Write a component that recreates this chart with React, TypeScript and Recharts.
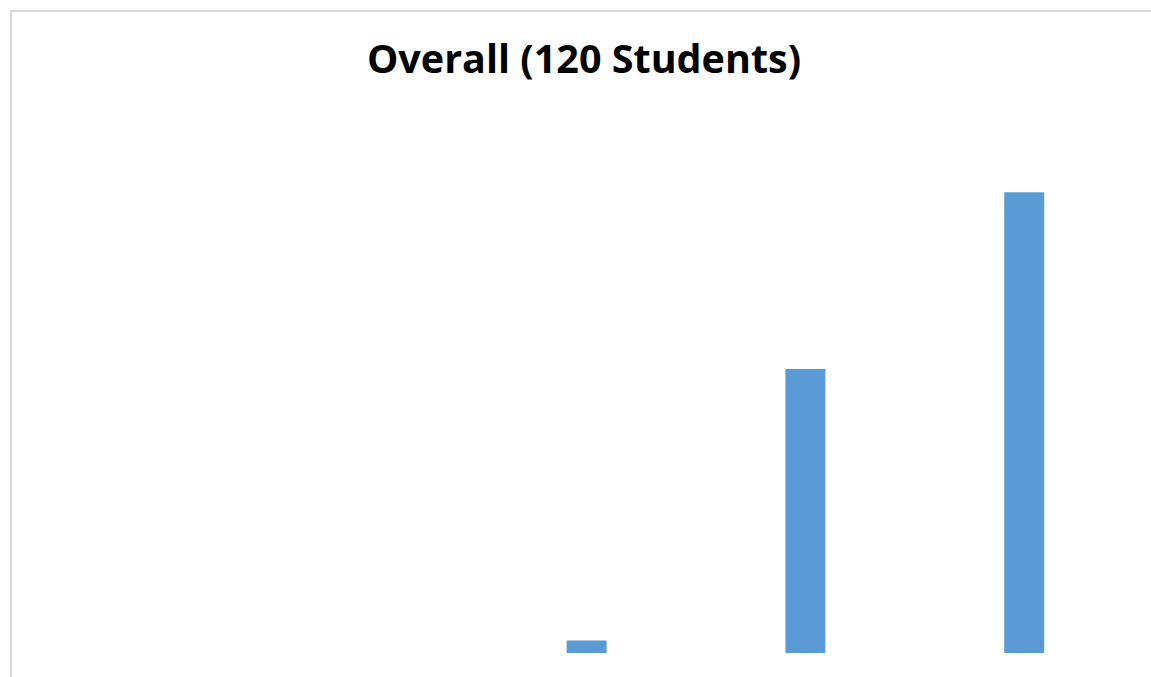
import { BarChart, Bar, XAxis, YAxis } from "recharts";

const categories = ["1", "2", "3", "4", "5"];
const students = [0, 0, 2, 45, 73];

const data = categories.map((c, i) => ({ name: c, students: students[i] }));

export default function App() {
  return (
    <div style={{ position: "absolute", left: 0, top: 0, width: 1151, height: 677, overflow: "hidden", background: "#fff" }}>
      <div
        style={{
          position: "absolute",
          left: 10,
          top: 10,
          width: 1200,
          height: 720,
          borderTop: "2px solid #d9d9d9",
          borderLeft: "2px solid #d9d9d9",
        }}
      />
      <div
        style={{
          position: "absolute",
          left: 0,
          top: 37.5,
          width: 1168,
          textAlign: "center",
          fontFamily: "'Open Sans', sans-serif",
          fontWeight: 700,
          fontSize: 39.5,
          lineHeight: "40px",
          color: "#000",
        }}
      >
        Overall (120 Students)
      </div>
      <div style={{ position: "absolute", left: 0, top: 0 }}>
        <BarChart width={1151} height={677} data={data} margin={{ top: 148, right: 17, bottom: 24, left: 40 }}>
          <XAxis dataKey="name" hide />
          <YAxis domain={[0, 80]} hide />
          <Bar dataKey="students" fill="#5B9BD5" barSize={40} isAnimationActive={false} />
        </BarChart>
      </div>
    </div>
  );
}
